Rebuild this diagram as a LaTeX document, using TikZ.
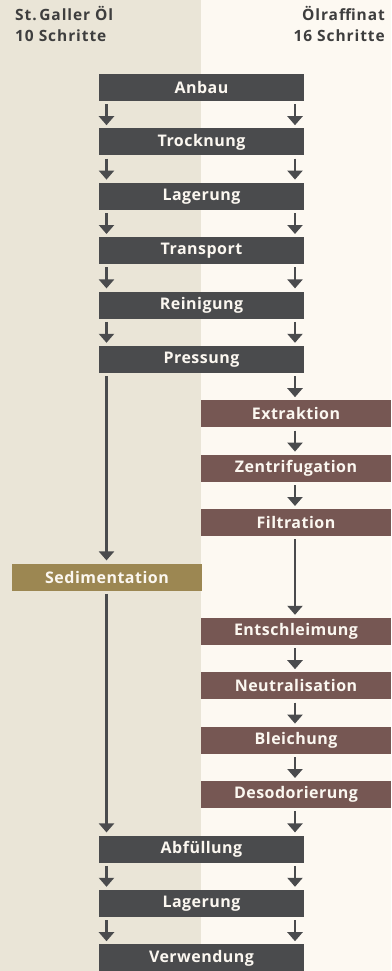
\documentclass[tikz,border=0pt]{standalone}
\usepackage{fontspec}
\setmainfont{Open Sans}[LetterSpace=3]
\newfontfamily\headfont{Open Sans}[LetterSpace=6]
\usetikzlibrary{arrows.meta,calc}
\definecolor{bgL}{HTML}{EAE5D7}
\definecolor{bgR}{HTML}{FDF9F2}
\definecolor{dark}{HTML}{4A4B4D}
\definecolor{brownbox}{HTML}{765753}
\definecolor{olive}{HTML}{9C8752}
\definecolor{head}{HTML}{3E3E3E}
\definecolor{boxtext}{HTML}{FBF7F0}
\tikzset{
  box/.style={inner sep=0pt, minimum height=27pt, text=boxtext, font=\bfseries\fontsize{16}{18}\selectfont},
  darkbox/.style={box, fill=dark, minimum width=205pt},
  brownstep/.style={box, fill=brownbox, minimum width=190pt},
  olivestep/.style={box, fill=olive, minimum width=190pt},
  arr/.style={draw=dark, line width=2.5pt, -{Triangle[width=15pt,length=9pt]}, shorten <=3pt, shorten >=3pt},
  headtext/.style={inner sep=0pt, text=head, font=\headfont\bfseries\fontsize{15.5}{17}\selectfont}
}
\begin{document}
\begin{tikzpicture}[x=1pt,y=-1pt]
\useasboundingbox (0,0) rectangle (391,971);
\fill[bgL] (0,0) rectangle (201,971);
\fill[bgR] (201,0) rectangle (391,971);
\node[headtext, anchor=base west] (h1) at (15,20.5) {St.\,Galler Öl};
\node[headtext, anchor=base west] (h2) at (15,41.7) {10 Schritte};
\node[headtext, anchor=base east] (h3) at (385,20.5) {Ölraffinat};
\node[headtext, anchor=base east] (h4) at (385,41.7) {16 Schritte};
\coordinate (lx) at (106.5,0);
\coordinate (rx) at (295,0);
\node[darkbox] (anbau) at (201.5,87.5) {Anbau};
\node[darkbox] (trock) at (201.5,141.9) {Trocknung};
\node[darkbox] (lager1) at (201.5,196.3) {Lagerung};
\node[darkbox] (trans) at (201.5,250.7) {Transport};
\node[darkbox] (rein) at (201.5,305.1) {Reinigung};
\node[darkbox] (press) at (201.5,359.5) {Pressung};
\node[brownstep] (extr) at (296,413.9) {Extraktion};
\node[brownstep] (zentr) at (296,468.3) {Zentrifugation};
\node[brownstep] (filt) at (296,522.7) {Filtration};
\node[olivestep] (sedi) at (107,577.1) {Sedimentation};
\node[brownstep] (entsch) at (296,631.5) {Entschleimung};
\node[brownstep] (neutr) at (296,685.9) {Neutralisation};
\node[brownstep] (bleich) at (296,740.3) {Bleichung};
\node[brownstep] (desod) at (296,794.7) {Desodorierung};
\node[darkbox] (abf) at (201.5,849.1) {Abfüllung};
\node[darkbox] (lager2) at (201.5,903.5) {Lagerung};
\node[darkbox] (verw) at (201.5,957.9) {Verwendung};
% both-sided short arrows
\foreach \a/\b in {anbau/trock, trock/lager1, lager1/trans, trans/rein, rein/press, abf/lager2, lager2/verw}{
  \draw[arr] (\a.south -| lx) -- (\b.north -| lx);
  \draw[arr] (\a.south -| rx) -- (\b.north -| rx);
}
% right-side chain
\foreach \a/\b in {press/extr, extr/zentr, zentr/filt, filt/entsch, entsch/neutr, neutr/bleich, bleich/desod, desod/abf}{
  \draw[arr] (\a.south -| rx) -- (\b.north -| rx);
}
% left-side chain
\draw[arr] (press.south -| lx) -- (sedi.north -| lx);
\draw[arr] (sedi.south -| lx) -- (abf.north -| lx);
\end{tikzpicture}
\end{document}
